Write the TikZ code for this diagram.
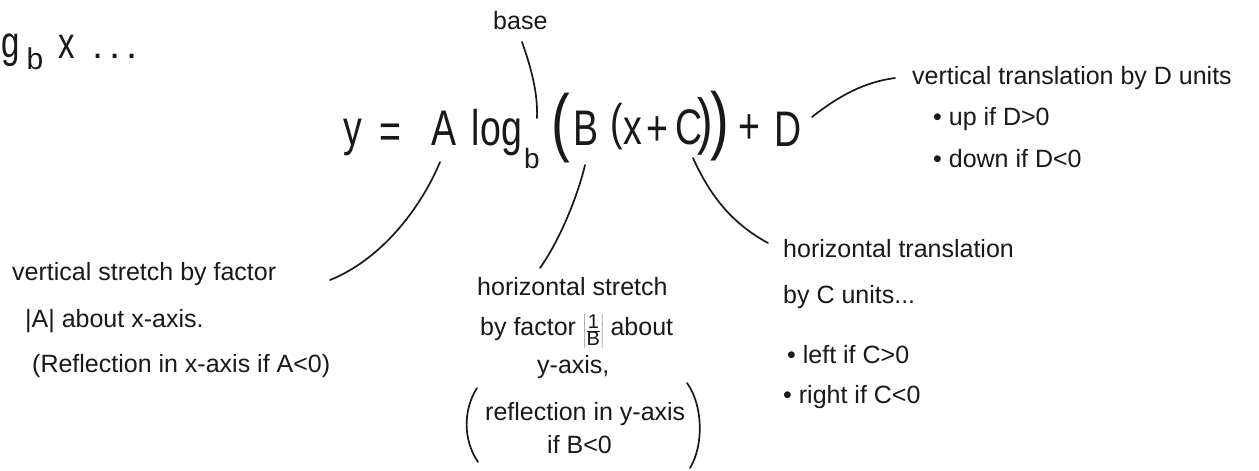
\documentclass[tikz,border=0pt]{standalone}
\usepackage{fontspec}
\setmainfont{Liberation Sans}
\newcommand\narrowg[1]{\scalebox{0.75}[1]{#1}}
\tikzset{
  ink/.style={line width=1.7pt, line cap=round, draw=black!90},
  txt/.style={inner sep=0pt, anchor=base west, text=black!90, font=\fontsize{25}{30}\selectfont},
  eq/.style={inner sep=0pt, text=black!90, font=\fontsize{50}{60}\selectfont},
}
\begin{document}
\begin{tikzpicture}[x=1pt,y=-1pt]
\useasboundingbox (0,0) rectangle (1259,471);
\clip (0,0) rectangle (1259,471);
\fill[white] (0,0) rectangle (1259,471);

% first line, cut at the left edge
\node[eq, font=\fontsize{44}{50}\selectfont, anchor=base east] (log0) at (20,57) {\narrowg{log}};
\node[eq, font=\fontsize{30}{36}\selectfont] (b0) at (35,58.5) {b};
\node[eq, font=\fontsize{44}{50}\selectfont] (x0) at (66.5,46.5) {\narrowg{x}};
\node[eq, font=\fontsize{40}{48}\selectfont, anchor=base west] (dots0) at (92,58) {.\hspace{6pt}.\hspace{6pt}.};

% main equation
\node[eq, anchor=base] (y) at (353,145) {\narrowg{y}};
\node[eq] (eqs) at (390,136) {\narrowg{=}};
\node[eq, anchor=base] (A) at (444.5,145) {\narrowg{A}};
\node[eq, anchor=base] (log) at (497,145) {\narrowg{log}};
\node[eq, font=\fontsize{28}{34}\selectfont] (bsub) at (532,158) {b};
\node[eq, font=\fontsize{75}{80}\selectfont] (lp1) at (561,128) {\narrowg{(}};
\node[eq, anchor=base] (B) at (586.5,145) {\narrowg{B}};
\node[eq] (lp2) at (617,126.5) {\narrowg{(}};
\node[eq, anchor=base] (x) at (632.5,144) {\narrowg{x}};
\node[eq] (plus1) at (657.5,131) {\narrowg{+}};
\node[eq, anchor=base] (C) at (689,144) {\narrowg{C}};
\node[eq, font=\fontsize{62}{70}\selectfont] (rp2) at (705,126) {\narrowg{)}};
\node[eq, font=\fontsize{75}{80}\selectfont] (rp1) at (719.5,126) {\narrowg{)}};
\node[eq] (plus2) at (749,129) {\narrowg{+}};
\node[eq, anchor=base] (D) at (788,146) {\narrowg{D}};

% labels
\node[txt] (base) at (493,30) {base};

\node[txt] (vt1) at (912,84) {vertical translation by D units};
\node[txt] (vt2) at (933,125) {\textbullet\ up if D>0};
\node[txt] (vt3) at (933,167) {\textbullet\ down if D<0};

\node[txt] (vs1) at (12,280) {vertical stretch by factor};
\node[txt] (vs2) at (25,327) {|A| about x-axis.};
\node[txt] (vs3) at (32,372) {(Reflection in x-axis if A<0)};

\node[txt] (hs1) at (477,295) {horizontal stretch};
\node[txt] (hs2) at (480,335) {by factor \raisebox{-1pt}{\scalebox{0.8}{$\left|\frac{\textrm{1}}{\textrm{B}}\right|$}} about};
\node[txt] (hs3) at (537,373) {y-axis,};
\node[txt] (hs4) at (485,420) {reflection in y-axis};
\node[txt] (hs5) at (547,453) {if B<0};
\draw[ink] (477,388) .. controls (463,410) and (463,440) .. (478,462);
\draw[ink] (687,383) .. controls (703,405) and (704,445) .. (690,468);

\node[txt] (ht1) at (783,257) {horizontal translation};
\node[txt] (ht2) at (783,303) {by C units...};
\node[txt] (ht3) at (787,363) {\textbullet\ left if C>0};
\node[txt] (ht4) at (783,403) {\textbullet\ right if C<0};

% connectors
\coordinate (baseS) at (522,42);
\coordinate (baseE) at (537,118);
\draw[ink] (baseS) .. controls (532,70) and (538,95) .. (baseE);

\coordinate (aS) at (440,162);
\coordinate (aE) at (330,280);
\draw[ink] (aS) .. controls (420,210) and (380,260) .. (aE);

\coordinate (bS) at (585,165);
\coordinate (bE) at (540,268);
\draw[ink] (bS) .. controls (578,195) and (560,240) .. (bE);

\coordinate (cS) at (693,158);
\coordinate (cE) at (768,243);
\draw[ink] (cS) .. controls (712,200) and (735,225) .. (cE);

\coordinate (dS) at (812,117);
\coordinate (dE) at (895,78);
\draw[ink] (dS) .. controls (840,95) and (865,82) .. (dE);
\end{tikzpicture}
\end{document}
